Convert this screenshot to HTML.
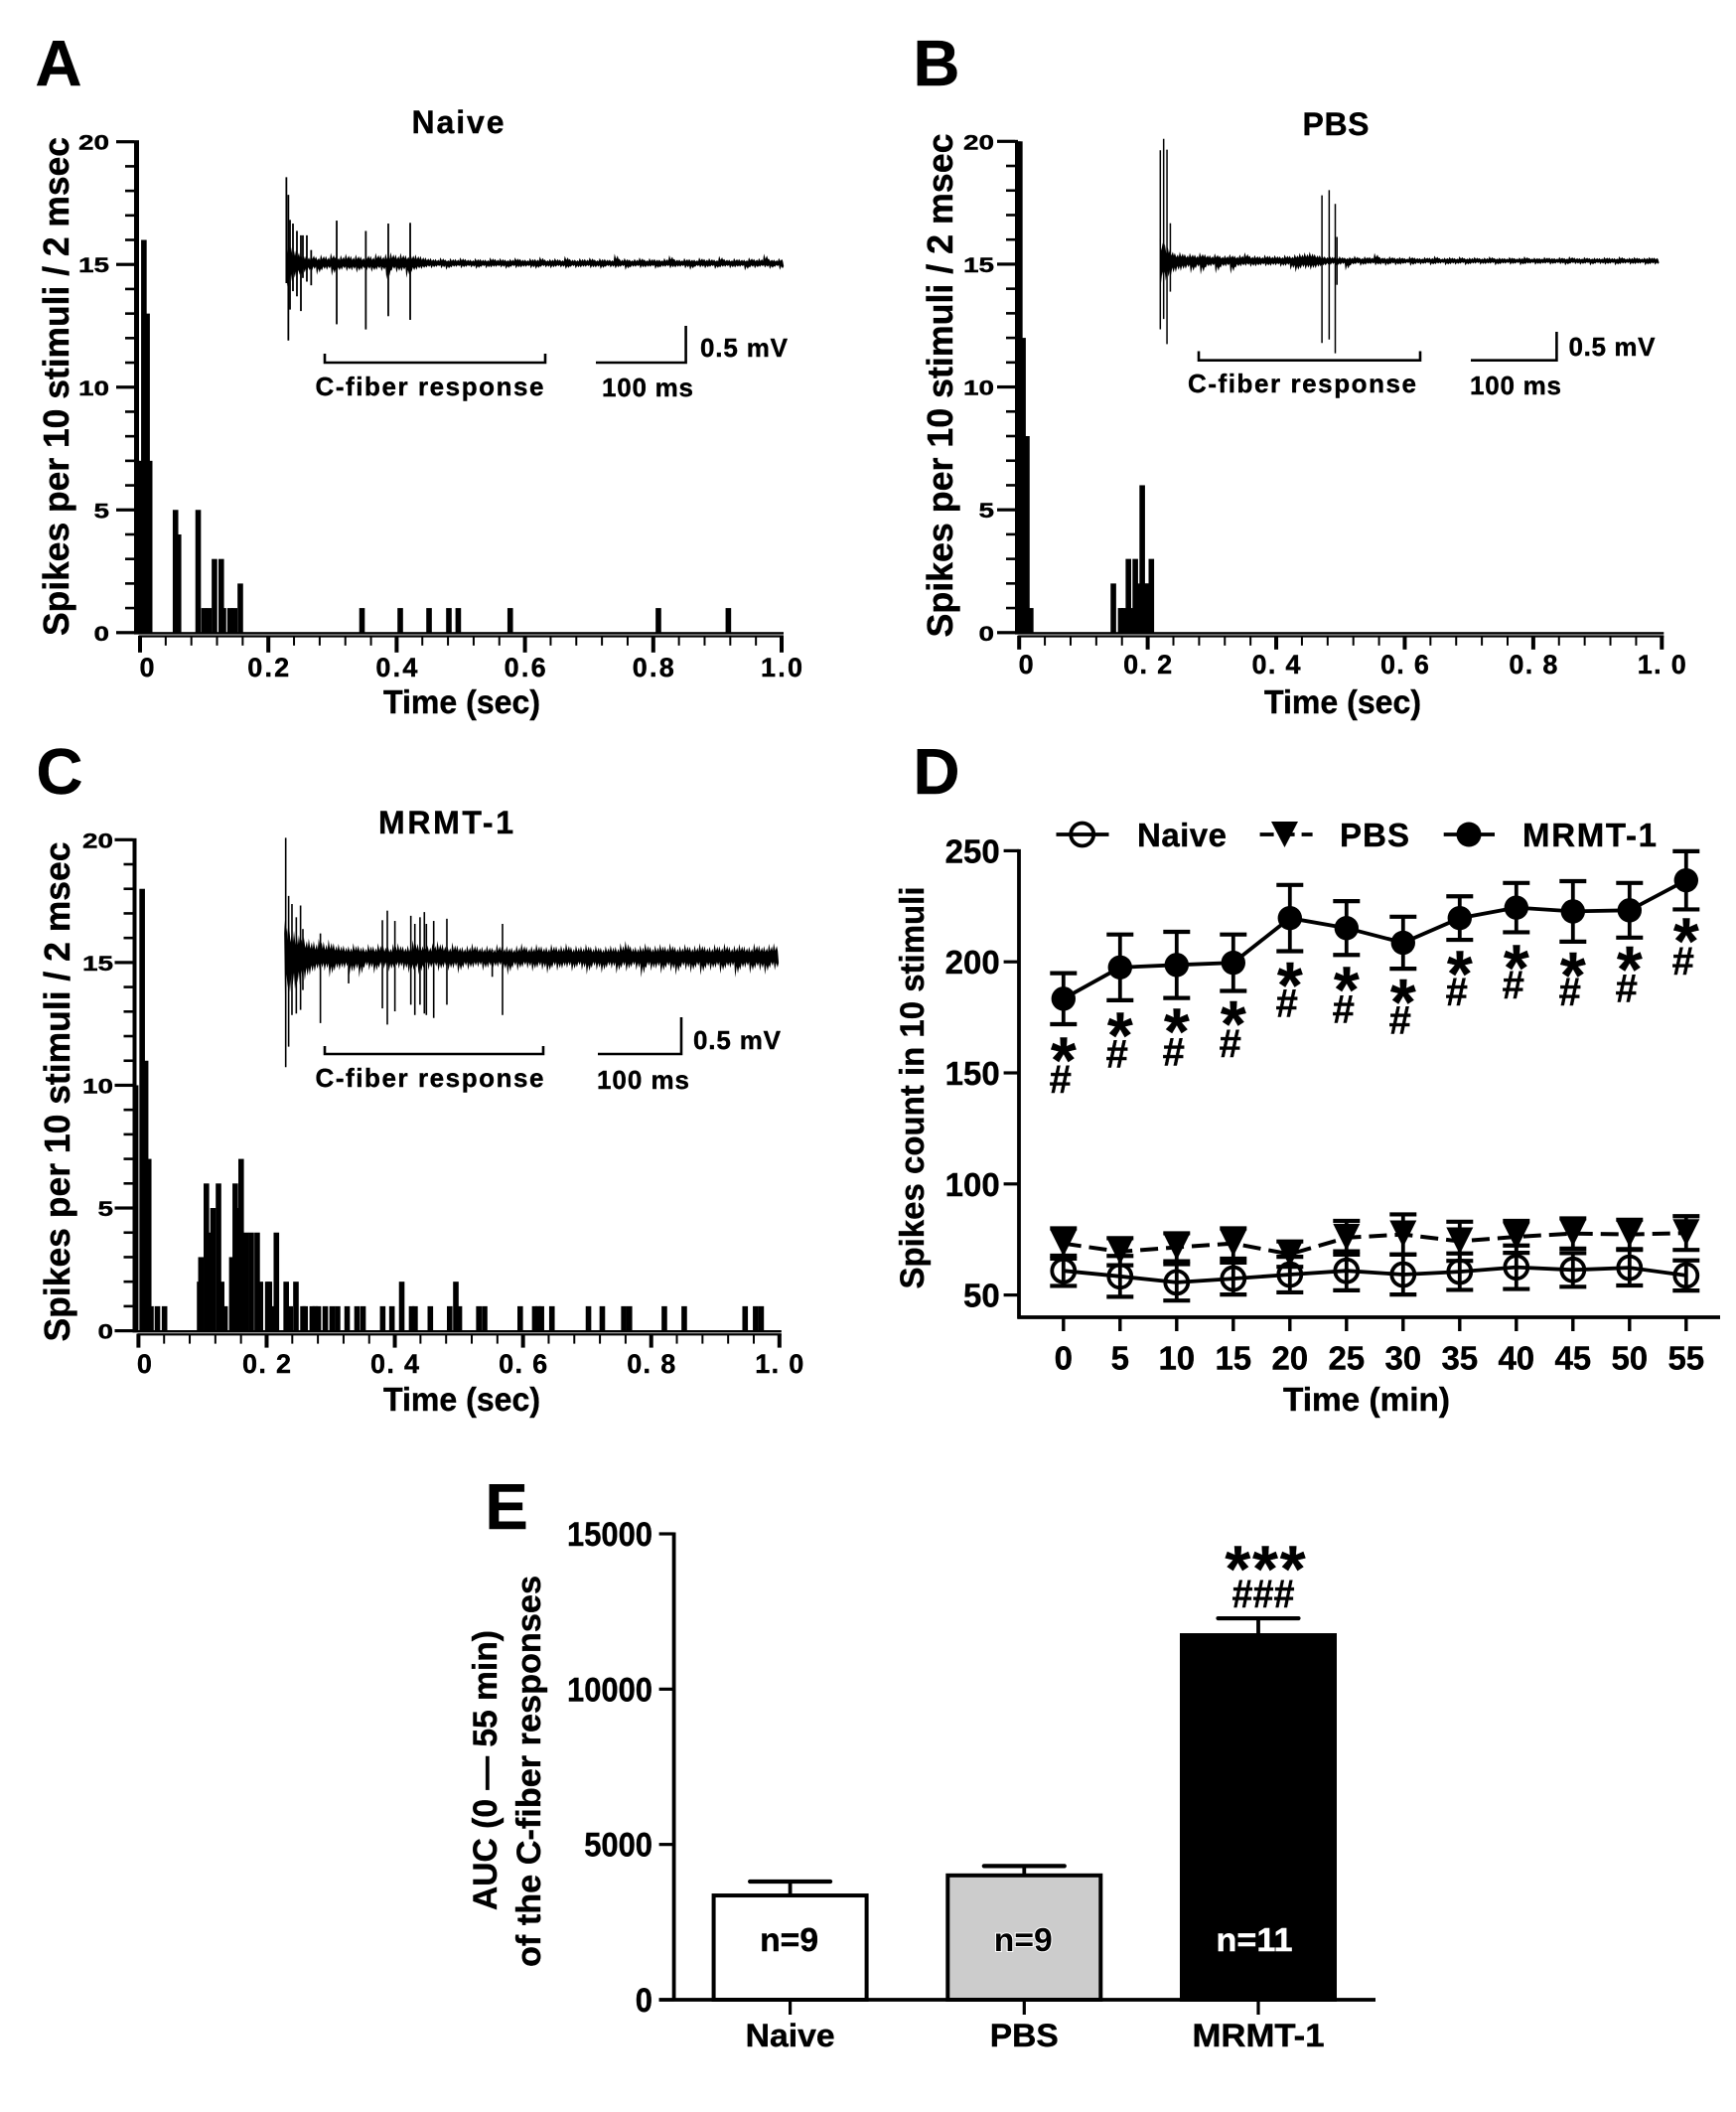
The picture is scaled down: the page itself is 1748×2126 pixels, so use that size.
<!DOCTYPE html>
<html lang="en">
<head>
<meta charset="utf-8">
<title>C-fiber response figure</title>
<style>
html,body{margin:0;padding:0;background:#fff;}
svg{display:block;}
text{font-family:"Liberation Sans",Arial,sans-serif;font-weight:bold;fill:#000;stroke:#000;stroke-width:0.4px;}
</style>
</head>
<body>
<svg id="figure" width="1748" height="2126" viewBox="0 0 1748 2126">
<rect x="0" y="0" width="1748" height="2126" fill="#fff"/>

<text x="59" y="86" font-size="65" text-anchor="middle">A</text>
<text x="943" y="86" font-size="65" text-anchor="middle">B</text>
<text x="60" y="799" font-size="65" text-anchor="middle">C</text>
<text x="943" y="799" font-size="65" text-anchor="middle">D</text>
<text x="510" y="1539" font-size="65" text-anchor="middle">E</text>

<text x="461" y="134" font-size="32" text-anchor="middle" textLength="93" lengthAdjust="spacing">Naive</text>
<text x="1345" y="136" font-size="32" text-anchor="middle" textLength="67">PBS</text>
<text x="449" y="839" font-size="32" text-anchor="middle" textLength="136" lengthAdjust="spacing">MRMT-1</text>

<text transform="translate(69,389) rotate(-90)" font-size="36" text-anchor="middle" textLength="502" lengthAdjust="spacingAndGlyphs">Spikes per 10 stimuli / 2 msec</text>
<text transform="translate(959,388) rotate(-90)" font-size="36" text-anchor="middle" textLength="507" lengthAdjust="spacingAndGlyphs">Spikes per 10 stimuli / 2 msec</text>
<text transform="translate(70,1099) rotate(-90)" font-size="36" text-anchor="middle" textLength="503" lengthAdjust="spacingAndGlyphs">Spikes per 10 stimuli / 2 msec</text>
<text transform="translate(930,1095) rotate(-90)" font-size="34" text-anchor="middle" textLength="405" lengthAdjust="spacingAndGlyphs">Spikes count in 10 stimuli</text>
<text transform="translate(500,1782) rotate(-90)" font-size="34" text-anchor="middle" textLength="282" lengthAdjust="spacingAndGlyphs">AUC (0 — 55 min)</text>
<text transform="translate(544,1783) rotate(-90)" font-size="34" text-anchor="middle" textLength="394" lengthAdjust="spacingAndGlyphs">of the C-fiber responses</text>

<text x="465" y="718" font-size="33" text-anchor="middle" textLength="158" lengthAdjust="spacingAndGlyphs">Time (sec)</text>
<text x="1352" y="718" font-size="33" text-anchor="middle" textLength="158" lengthAdjust="spacingAndGlyphs">Time (sec)</text>
<text x="465" y="1420" font-size="33" text-anchor="middle" textLength="158" lengthAdjust="spacingAndGlyphs">Time (sec)</text>
<text x="1376" y="1420" font-size="33" text-anchor="middle" textLength="168" lengthAdjust="spacingAndGlyphs">Time (min)</text>

<g fill="none" stroke="#000" stroke-width="2.6">
<path d="M327 356V365H549V356"/>
<path d="M600 365H690.6V328"/>
</g>
<text x="432.5" y="398" font-size="26" text-anchor="middle" textLength="230" lengthAdjust="spacing">C-fiber response</text>
<text x="652" y="399" font-size="26" text-anchor="middle" textLength="92" lengthAdjust="spacing">100 ms</text>
<text x="749" y="359" font-size="26" text-anchor="middle" textLength="88" lengthAdjust="spacing">0.5 mV</text>

<g fill="none" stroke="#000" stroke-width="2.6">
<path d="M1207 353.5V362.7H1430V353.5"/>
<path d="M1481 362.7H1567.4V334"/>
</g>
<text x="1311" y="395" font-size="26" text-anchor="middle" textLength="230" lengthAdjust="spacing">C-fiber response</text>
<text x="1526" y="397" font-size="26" text-anchor="middle" textLength="92" lengthAdjust="spacing">100 ms</text>
<text x="1623" y="358" font-size="26" text-anchor="middle" textLength="87" lengthAdjust="spacing">0.5 mV</text>

<g fill="none" stroke="#000" stroke-width="2.6">
<path d="M327 1053V1061H547V1053"/>
<path d="M602 1061H686V1024"/>
</g>
<text x="432.5" y="1094" font-size="26" text-anchor="middle" textLength="230" lengthAdjust="spacing">C-fiber response</text>
<text x="647.5" y="1096" font-size="26" text-anchor="middle" textLength="93" lengthAdjust="spacing">100 ms</text>
<text x="742" y="1056" font-size="26" text-anchor="middle" textLength="88" lengthAdjust="spacing">0.5 mV</text>

<g>
<g>
<path d="M1063.5 840H1116.5" stroke="#000" stroke-width="3.8"/>
<circle cx="1089.7" cy="840" r="11.5" fill="none" stroke="#000" stroke-width="3.8"/>
<text x="1190" y="852" font-size="33" text-anchor="middle" textLength="90" lengthAdjust="spacing">Naive</text>
</g>
<g>
<path d="M1268.6 840H1321.6" stroke="#000" stroke-width="3.8" stroke-dasharray="14 7"/>
<path d="M1280 827H1307L1293.5 853Z" fill="#000"/>
<text x="1384" y="852" font-size="33" text-anchor="middle" textLength="70">PBS</text>
</g>
<g>
<path d="M1453.7 840H1505" stroke="#000" stroke-width="3.8"/>
<circle cx="1479" cy="840" r="12.5" fill="#000"/>
<text x="1600.5" y="852" font-size="33" text-anchor="middle" textLength="135" lengthAdjust="spacing">MRMT-1</text>
</g>
</g>

<g id="panel-e-static">
<text x="1274" y="1602" font-size="66" text-anchor="middle" textLength="81">***</text>
<text x="1272" y="1618" font-size="40" text-anchor="middle" textLength="63" lengthAdjust="spacingAndGlyphs">###</text>
</g>
</svg>

<script>
// Panel A histogram (bin time in sec, spikes per bin)
const barTimesA = [-0.004,0,0.006,0.011,0.015,0.0553,0.060,0.0906,0.0998,0.1075,0.116,0.1266,0.130,0.1403,0.1474,0.1563,0.346,0.4056,0.4505,0.4814,0.496,0.577,0.808,0.917];
const barCountsA = [7,7,16,13,7,5,4,5,1,1,3,3,1,1,1,2,1,1,1,1,1,1,1,1];
// Panel B histogram
const barTimesB = [-0.002,0.001,0.006,0.012,0.018,0.1466,0.158,0.163,0.17,0.175,0.1807,0.186,0.1915,0.197,0.2,0.2057];
const barCountsB = [20,20,12,8,1,2,1,1,3,1,3,2,6,2,2,3];
// Panel C histogram
const barTimesC = [-0.0043,0.0058,0.0112,0.016,0.0195,0.0296,0.0407,0.0955,0.0975,0.106,0.1113,0.1164,0.1249,0.1298,0.1351,0.1457,0.151,0.1543,0.1602,0.1677,0.176,0.1852,0.1903,0.2018,0.2043,0.207,0.2152,0.2305,0.2368,0.2457,0.2567,0.26,0.2712,0.2757,0.2807,0.2915,0.3022,0.3107,0.3256,0.341,0.3504,0.3811,0.3955,0.4108,0.4262,0.4315,0.4554,0.4856,0.4952,0.5007,0.5311,0.5401,0.5956,0.6183,0.6235,0.6287,0.6451,0.7021,0.7237,0.7573,0.766,0.8205,0.8515,0.9465,0.9629,0.9715];
const barCountsC = [10,18,11,7,1,1,1,2,3,6,4,5,6,2,1,3,6,5,7,4,4,4,2,2,2,1,4,2,1,2,1,1,1,1,1,1,1,1,1,1,1,1,1,2,1,1,1,1,2,1,1,1,1,1,1,1,1,1,1,1,1,1,1,1,1,1];

// Histogram axis ticks and labels
const histYTicks = [0,5,10,15,20];
const histYTickLabels = ['0','5','10','15','20'];
const histXTicks = [0,0.2,0.4,0.6,0.8,1];
const histXLabelsA = ['0','0.2','0.4','0.6','0.8','1.0'];
const histXLabelsSpaced = ['0','0. 2','0. 4','0. 6','0. 8','1. 0'];

// Inset traces: spike time (ms), positive and negative peak (mV)
const spikeTimesA = [0.4,2.6,4.4,7.7,12.1,16.5,18.7,23.1,27.9,56.2,88.5,113.4,137.7];
const spikeUpA = [1.17,0.93,0.59,0.54,0.44,0.38,0.38,0.38,0.18,0.58,0.44,0.54,0.55];
const spikeDownA = [0.27,1.05,0.63,0.38,0.45,0.65,0.2,0.25,0.3,0.83,0.9,0.72,0.77];
const spikeTimesB = [0.6,4.5,8.4,12.3,189,197.4,204.5,206.5];
const spikeUpB = [1.94,2.14,1.95,0.66,1.15,1.24,1.0,0.42];
const spikeDownB = [1.2,1.02,1.46,0.54,1.44,1.38,1.62,0.42];
const spikeTimesC = [2,5.5,9.5,14.7,19.8,22.6,43.6,77.4,117.9,123.8,132.9,152,156.8,163,168.2,170.6,179.4,195.2,249.6,261.9];
const spikeUpC = [1.62,0.83,0.72,0.54,0.7,0.38,0.32,0.1,0.5,0.63,0.49,0.56,0.45,0.54,0.61,0.45,0.49,0.52,0.1,0.45];
const spikeDownC = [1.5,1.22,0.79,0.77,0.72,0.45,0.9,0.36,0.7,0.92,0.74,0.65,0.79,0.65,0.77,0.79,0.83,0.65,0.27,0.79];

// Inset traces: background noise envelope (mV), one value per trace segment
const noiseUpA = [0.30,0.22,0.18,0.12,0.10,0.13,0.09,0.12,0.10,0.14,0.09,0.11,0.13,0.10,0.12,0.09,0.13,0.10,0.14,0.11,0.13,0.15,0.12,0.14,0.11,0.13,0.12,0.10,0.08,0.07,0.06,0.08,0.05,0.07,0.06,0.08,0.06,0.05,0.07,0.06,0.05,0.08,0.06,0.07,0.05,0.06,0.08,0.06,0.05,0.07,0.06,0.09,0.05,0.06,0.07,0.05,0.10,0.06,0.05,0.07,0.06,0.08,0.05,0.07,0.06,0.05,0.13,0.06,0.07,0.05,0.06,0.08,0.05,0.07,0.06,0.05,0.07,0.11,0.06,0.05,0.07,0.06,0.05,0.08,0.06,0.07,0.05,0.10,0.06,0.05,0.07,0.06,0.05,0.08,0.06,0.07,0.13,0.06,0.05,0.07];
const noiseDownA = [0.32,0.25,0.20,0.16,0.12,0.10,0.16,0.10,0.09,0.17,0.12,0.09,0.11,0.10,0.13,0.09,0.10,0.12,0.09,0.11,0.22,0.10,0.13,0.11,0.20,0.12,0.09,0.08,0.06,0.07,0.05,0.07,0.09,0.06,0.05,0.07,0.05,0.06,0.08,0.05,0.07,0.06,0.05,0.06,0.08,0.05,0.07,0.06,0.05,0.07,0.08,0.05,0.06,0.07,0.05,0.06,0.08,0.05,0.07,0.06,0.05,0.07,0.06,0.08,0.05,0.06,0.07,0.05,0.09,0.06,0.05,0.07,0.06,0.05,0.08,0.06,0.05,0.07,0.06,0.05,0.07,0.09,0.05,0.06,0.07,0.05,0.08,0.06,0.05,0.07,0.06,0.05,0.10,0.06,0.07,0.05,0.06,0.08,0.05,0.09];
const noiseUpB = [0.40,0.30,0.20,0.14,0.16,0.12,0.14,0.11,0.15,0.12,0.10,0.13,0.09,0.10,0.12,0.09,0.11,0.15,0.09,0.10,0.08,0.11,0.09,0.10,0.08,0.11,0.09,0.12,0.14,0.15,0.16,0.12,0.10,0.08,0.09,0.07,0.08,0.06,0.07,0.09,0.06,0.08,0.07,0.14,0.07,0.06,0.08,0.06,0.07,0.05,0.08,0.06,0.05,0.07,0.06,0.09,0.05,0.06,0.07,0.05,0.08,0.05,0.06,0.07,0.05,0.06,0.08,0.05,0.06,0.05,0.07,0.05,0.06,0.08,0.05,0.06,0.05,0.07,0.06,0.05,0.07,0.05,0.08,0.06,0.05,0.07,0.05,0.06,0.05,0.07,0.06,0.05,0.08,0.05,0.06,0.07,0.05,0.06,0.07,0.06];
const noiseDownB = [0.42,0.35,0.26,0.20,0.18,0.14,0.22,0.13,0.24,0.12,0.10,0.22,0.12,0.10,0.23,0.12,0.10,0.09,0.11,0.10,0.08,0.10,0.09,0.08,0.11,0.09,0.16,0.20,0.14,0.15,0.16,0.13,0.10,0.08,0.07,0.09,0.07,0.17,0.08,0.06,0.09,0.07,0.06,0.08,0.07,0.09,0.06,0.08,0.07,0.05,0.09,0.06,0.07,0.05,0.08,0.06,0.05,0.08,0.06,0.07,0.05,0.08,0.06,0.05,0.07,0.06,0.05,0.08,0.06,0.05,0.07,0.05,0.08,0.06,0.05,0.07,0.06,0.05,0.07,0.05,0.06,0.08,0.05,0.06,0.07,0.05,0.08,0.05,0.06,0.07,0.05,0.08,0.06,0.05,0.07,0.06,0.05,0.08,0.06,0.07];
const noiseUpC = [0.50,0.44,0.36,0.30,0.27,0.25,0.22,0.25,0.21,0.24,0.19,0.18,0.16,0.15,0.19,0.16,0.14,0.18,0.15,0.19,0.16,0.14,0.18,0.19,0.15,0.16,0.23,0.18,0.15,0.16,0.19,0.22,0.18,0.15,0.20,0.16,0.14,0.16,0.19,0.15,0.14,0.16,0.13,0.18,0.14,0.15,0.13,0.16,0.19,0.14,0.15,0.18,0.15,0.14,0.18,0.15,0.16,0.19,0.14,0.16,0.15,0.18,0.14,0.16,0.13,0.15,0.16,0.14,0.19,0.22,0.15,0.14,0.16,0.19,0.14,0.16,0.18,0.15,0.19,0.14,0.15,0.18,0.14,0.16,0.19,0.15,0.14,0.18,0.15,0.19,0.14,0.16,0.18,0.15,0.14,0.19,0.16,0.15,0.18,0.19];
const noiseDownC = [0.52,0.48,0.44,0.38,0.32,0.25,0.20,0.18,0.19,0.28,0.19,0.18,0.16,0.25,0.20,0.28,0.15,0.18,0.23,0.15,0.16,0.20,0.15,0.16,0.19,0.22,0.18,0.24,0.15,0.18,0.16,0.20,0.15,0.19,0.16,0.23,0.15,0.18,0.15,0.14,0.19,0.15,0.16,0.14,0.20,0.25,0.15,0.19,0.14,0.16,0.20,0.15,0.18,0.23,0.15,0.19,0.16,0.15,0.20,0.14,0.18,0.24,0.15,0.18,0.22,0.15,0.16,0.23,0.15,0.20,0.14,0.18,0.28,0.15,0.19,0.16,0.23,0.15,0.20,0.25,0.15,0.18,0.22,0.15,0.25,0.16,0.19,0.15,0.23,0.16,0.15,0.28,0.18,0.15,0.23,0.16,0.19,0.24,0.15,0.18];

// Panel D: time course series
const dTimes = [0,5,10,15,20,25,30,35,40,45,50,55];
const dYTicks = [50,100,150,200,250];
const mrmtMeans = [183.4,197.5,198.6,199.6,219.7,215.2,208.6,219.7,224.4,222.7,223.2,236.7];
const mrmtSem = [11.5,14.8,14.9,12.7,14.9,12.1,11.7,9.8,11.1,13.6,12.3,13.1];
const pbsMeans = [73.2,69.5,71.5,73.2,68.4,75.8,77.3,74.2,76.2,77.7,77.3,77.9];
const pbsSem = [6.8,6.1,6.3,6.8,5.7,7.6,9,8.8,7.2,6.8,6.6,7.6];
const naiveMeans = [60.9,58.4,55.7,57.4,59.2,60.9,59.2,60.5,62.5,61.3,62.3,58.8];
const naiveSem = [6.8,9.2,8.2,7.2,8,8.8,9,8.2,9.8,7.6,8,6.8];
const starLevels = [160.2,171.5,173.2,176.6,194.1,192,186.5,199.2,201.8,198.6,201.2,213.9];
const hashLevels = [147.5,158.8,159.8,163.7,181.8,179.1,174,186.9,190,186.9,188.5,200.8];

// Panel E: AUC bars
const eCategories = ['Naive','PBS','MRMT-1'];
const eValues = [3357,4004,11737];
const eUpperErrors = [3805,4305,12280];
const eCounts = ['n=9','n=9','n=11'];
const eYTicks = [0,5000,10000,15000];

const svg = document.getElementById('figure');
const NS = svg.namespaceURI;
function mk(tag, attrs, parent) {
  const e = document.createElementNS(NS, tag);
  for (const k in attrs) e.setAttribute(k, attrs[k]);
  parent.appendChild(e);
  return e;
}
function group(parent) { return mk('g', {}, parent); }

function drawHistogram(layout, times, counts, xLabels) {
  const root = group(svg);
  
  
  const xs = t => layout.x0 + t * (layout.x1 - layout.x0);
  const ys = c => layout.y0 + c * (layout.y20 - layout.y0) / 20;

  const yAxis = mk('rect', {x: layout.axisX, y: ys(20) - 1.5, width: layout.axisW, height: layout.y0 - ys(20) + 3, fill: '#000'}, root);
  
  
  for (let c = 0; c <= 20; c++) {
    const major = c % 5 === 0;
    const h = major ? 3.2 : 2.6;
    const tick = mk('rect', {x: layout.axisX - (major ? 18 : 9), y: ys(c) - h / 2, width: major ? 18 : 9, height: h, fill: '#000'}, root);
    
    
  }
  histYTicks.forEach((c, i) => {
    const s = histYTickLabels[i];
    const lab = mk('text', {x: layout.yLabelRight, y: ys(c) + 8, 'font-size': 21, 'text-anchor': 'end', textLength: s.length * 15.5, lengthAdjust: 'spacingAndGlyphs'}, root);
    lab.textContent = s;
    
    
  });

  const baseline = mk('rect', {x: layout.axisX, y: layout.y0 - 0.6, width: layout.x1 - layout.axisX + 2, height: 2.4, fill: '#000'}, root);
  
  
  const xAxis = mk('rect', {x: layout.x0 - 1, y: layout.y0 + 2.6, width: layout.x1 - layout.x0 + 3, height: 2.2, fill: '#000'}, root);
  
  
  for (let k = 0; k <= 25; k++) {
    const t = k * 0.04;
    const major = k % 5 === 0;
    const w = major ? (layout.majorW || 4) : 2;
    const tick = mk('rect', {x: xs(t) - w / 2, y: layout.y0 + 3, width: w, height: major ? layout.tickLen : 10, fill: '#000'}, root);
    
    
  }
  histXTicks.forEach((t, i) => {
    const s = xLabels[i];
    const cx = i === 0 ? xs(t) + layout.zeroShift : xs(t);
    const lab = mk('text', {x: cx, y: layout.xLabelY, 'font-size': 27, 'text-anchor': 'middle'}, root);
    if (s.length > 1) { lab.setAttribute('textLength', layout.xLabelLen); lab.setAttribute('lengthAdjust', 'spacing'); }
    lab.textContent = s;
    
    
  });

  times.forEach((t, i) => {
    const bar = mk('rect', {x: xs(t) - 2.8, y: ys(counts[i]), width: 5.6, height: layout.y0 - ys(counts[i]) + 1, fill: '#000'}, root);
    
    
  });
}

function drawTrace(layout, spikeTimes, spikeUp, spikeDown, noiseUp, noiseDown) {
  const root = group(svg);
  
  
  const xs = ms => layout.x0 + ms * layout.pxPerMs;
  const ys = mv => layout.y0 - mv * layout.pxPerMv;
  const step = layout.lenMs / noiseUp.length;
  let top = '', bottom = '';
  noiseUp.forEach((a, i) => {
    const peak = ys(a).toFixed(1), dip = ys(a * 0.45).toFixed(1);
    top += (i ? 'L' : 'M') + xs(i * step).toFixed(1) + ' ' + peak
      + 'L' + xs((i + 0.3) * step).toFixed(1) + ' ' + dip
      + 'L' + xs((i + 0.6) * step).toFixed(1) + ' ' + ys(a * 0.8).toFixed(1)
      + 'L' + xs((i + 0.8) * step).toFixed(1) + ' ' + dip;
  });
  for (let i = noiseDown.length - 1; i >= 0; i--) {
    const a = noiseDown[i];
    const peak = ys(-a).toFixed(1), dip = ys(-a * 0.45).toFixed(1);
    bottom += 'L' + xs((i + 1) * step).toFixed(1) + ' ' + dip
      + 'L' + xs((i + 0.75) * step).toFixed(1) + ' ' + ys(-a * 0.8).toFixed(1)
      + 'L' + xs((i + 0.5) * step).toFixed(1) + ' ' + dip
      + 'L' + xs((i + 0.2) * step).toFixed(1) + ' ' + peak;
  }
  const band = mk('path', {d: top + bottom + 'Z', fill: '#000'}, root);
  
  
  spikeTimes.forEach((ms, i) => {
    const line = mk('line', {x1: xs(ms), x2: xs(ms), y1: ys(spikeUp[i]), y2: ys(-spikeDown[i]), stroke: '#000', 'stroke-width': layout.spikeW}, root);
    
    
  });
}

drawHistogram({name: 'panel-a-histogram', x0: 141, x1: 787, y0: 636.8, y20: 142.7, axisX: 135, axisW: 5, yLabelRight: 110, xLabelY: 681, xLabelLen: 42, zeroShift: 7, tickLen: 17}, barTimesA, barCountsA, histXLabelsA);
drawHistogram({name: 'panel-b-histogram', x0: 1026.2, x1: 1673.3, y0: 636.8, y20: 142.3, axisX: 1022, axisW: 3, yLabelRight: 1001, xLabelY: 678, xLabelLen: 49, zeroShift: 7, tickLen: 14}, barTimesB, barCountsB, histXLabelsSpaced);
drawHistogram({name: 'panel-c-histogram', x0: 139.4, x1: 784.8, y0: 1339.6, y20: 845.3, axisX: 133.5, axisW: 4, yLabelRight: 114, xLabelY: 1382, xLabelLen: 49, zeroShift: 6, tickLen: 14}, barTimesC, barCountsC, histXLabelsSpaced);

drawTrace({name: 'panel-a-trace', x0: 288, y0: 265, pxPerMs: 0.908, pxPerMv: 74, lenMs: 552, spikeW: 1.8}, spikeTimesA, spikeUpA, spikeDownA, noiseUpA, noiseDownA);
drawTrace({name: 'panel-b-trace', x0: 1167.8, y0: 262.6, pxPerMs: 0.864, pxPerMv: 57.4, lenMs: 582, spikeW: 1.5}, spikeTimesB, spikeUpB, spikeDownB, noiseUpB, noiseDownB);
drawTrace({name: 'panel-c-trace', x0: 286, y0: 963.3, pxPerMs: 0.84, pxPerMv: 74, lenMs: 593, spikeW: 1.6}, spikeTimesC, spikeUpC, spikeDownC, noiseUpC, noiseDownC);

// ---- Panel D ----
(function () {
  const root = group(svg);
  
  
  const xs = t => 1070.8 + t * (1697.8 - 1070.8) / 55;
  const ys = v => 856.4 + (250 - v) * (1303.6 - 856.4) / 200;

  const yAxis = mk('line', {x1: 1026, x2: 1026, y1: ys(250) - 1.5, y2: 1327.5, stroke: '#000', 'stroke-width': 3.8}, root);
  
  
  const xAxis = mk('line', {x1: 1024.5, x2: 1732, y1: 1326, y2: 1326, stroke: '#000', 'stroke-width': 3.8}, root);
  
  
  dYTicks.forEach(v => {
    const tick = mk('line', {x1: 1010.6, x2: 1026, y1: ys(v), y2: ys(v), stroke: '#000', 'stroke-width': 3.2}, root);
    
    
    const lab = mk('text', {x: 1006.7, y: ys(v) + 12, 'font-size': 33, 'text-anchor': 'end'}, root);
    lab.textContent = v;
    
    
  });
  dTimes.forEach(t => {
    const tick = mk('line', {x1: xs(t), x2: xs(t), y1: 1326, y2: 1340, stroke: '#000', 'stroke-width': 3.4}, root);
    
    
    const lab = mk('text', {x: xs(t), y: 1378.5, 'font-size': 33, 'text-anchor': 'middle'}, root);
    lab.textContent = t;
    
    
  });

  function errorBars(means, sem) {
    means.forEach((m, i) => {
      const x = xs(dTimes[i]);
      const stem = mk('line', {x1: x, x2: x, y1: ys(m + sem[i]), y2: ys(m - sem[i]), stroke: '#000', 'stroke-width': 3.8}, root);
      
      
      [m + sem[i], m - sem[i]].forEach(v => {
        const cap = mk('line', {x1: x - 13.5, x2: x + 13.5, y1: ys(v), y2: ys(v), stroke: '#000', 'stroke-width': 4.2}, root);
        
        
      });
    });
  }
  function linePoints(means) {
    return means.map((m, i) => xs(dTimes[i]).toFixed(1) + ',' + ys(m).toFixed(1)).join(' ');
  }

  errorBars(pbsMeans, pbsSem);
  const pbsLine = mk('polyline', {points: linePoints(pbsMeans), fill: 'none', stroke: '#000', 'stroke-width': 4, 'stroke-dasharray': '18 8'}, root);
  
  
  pbsMeans.forEach((m, i) => {
    const x = xs(dTimes[i]), y = ys(m);
    const marker = mk('path', {d: 'M' + (x - 13.5) + ' ' + (y - 14) + 'H' + (x + 13.5) + 'L' + x + ' ' + (y + 13) + 'Z', fill: '#000'}, root);
    
    
  });

  errorBars(naiveMeans, naiveSem);
  const naiveLine = mk('polyline', {points: linePoints(naiveMeans), fill: 'none', stroke: '#000', 'stroke-width': 3.8}, root);
  
  
  naiveMeans.forEach((m, i) => {
    const marker = mk('circle', {cx: xs(dTimes[i]), cy: ys(m), r: 11.5, fill: 'none', stroke: '#000', 'stroke-width': 3.8}, root);
    
    
  });

  errorBars(mrmtMeans, mrmtSem);
  const mrmtLine = mk('polyline', {points: linePoints(mrmtMeans), fill: 'none', stroke: '#000', 'stroke-width': 3.8}, root);
  
  
  mrmtMeans.forEach((m, i) => {
    const marker = mk('circle', {cx: xs(dTimes[i]), cy: ys(m), r: 12.2, fill: '#000'}, root);
    
    
  });

  starLevels.forEach((v, i) => {
    const star = mk('text', {x: xs(dTimes[i]), y: ys(v) + 33, 'font-size': 66, 'text-anchor': 'middle'}, root);
    star.textContent = '*';
    
    
  });
  hashLevels.forEach((v, i) => {
    const hash = mk('text', {x: xs(dTimes[i]) - 3, y: ys(v) + 14.4, 'font-size': 40, 'text-anchor': 'middle'}, root);
    hash.textContent = '#';
    
    
  });
})();

// ---- Panel E ----
(function () {
  const root = group(svg);
  
  
  const ys = v => 2013 - v * (2013 - 1544) / 15000;
  const xs = i => 795.6 + i * 235.7;
  const fills = ['#fff', '#ccc', '#000'];
  const textFills = ['#000', '#000', '#fff'];
  const countLengths = [59, 59, 77];
  const labelLengths = [90, 69, 133];

  eValues.forEach((v, i) => {
    const cx = xs(i);
    const stem = mk('line', {x1: cx, x2: cx, y1: ys(eUpperErrors[i]), y2: ys(v), stroke: '#000', 'stroke-width': 3.8}, root);
    
    
    const cap = mk('line', {x1: cx - 40.5, x2: cx + 40.5, y1: ys(eUpperErrors[i]), y2: ys(eUpperErrors[i]), stroke: '#000', 'stroke-width': 4.2, 'stroke-linecap': 'round'}, root);
    
    
    const bar = mk('rect', {x: cx - 77, y: ys(v), width: 154, height: 2013 - ys(v), fill: fills[i], stroke: '#000', 'stroke-width': 4}, root);
    
    
    const halo = i === 1 ? 'stroke:#fff;stroke-width:2px;paint-order:stroke;' : 'stroke:' + textFills[i] + ';';
    const n = mk('text', {x: cx - (i === 2 ? 4 : 1), y: 1964, 'font-size': 33, 'text-anchor': 'middle', textLength: countLengths[i], lengthAdjust: 'spacingAndGlyphs', style: 'fill:' + textFills[i] + ';' + halo}, root);
    n.textContent = eCounts[i];
    
    
    const tick = mk('line', {x1: cx, x2: cx, y1: 2013, y2: 2028, stroke: '#000', 'stroke-width': 3.2}, root);
    
    
    const lab = mk('text', {x: cx, y: 2060, 'font-size': 32, 'text-anchor': 'middle', textLength: labelLengths[i], lengthAdjust: 'spacingAndGlyphs'}, root);
    lab.textContent = eCategories[i];
    
    
  });

  const yAxis = mk('line', {x1: 678.6, x2: 678.6, y1: ys(15000) - 1.5, y2: 2014, stroke: '#000', 'stroke-width': 3.8}, root);
  
  
  const xAxis = mk('line', {x1: 663.6, x2: 1385, y1: 2013, y2: 2013, stroke: '#000', 'stroke-width': 3.8}, root);
  
  
  eYTicks.forEach(v => {
    const tick = mk('line', {x1: 663.6, x2: 678.6, y1: ys(v), y2: ys(v), stroke: '#000', 'stroke-width': 3.2}, root);
    
    
    const lab = mk('text', {x: 657, y: ys(v) + 12, 'font-size': 34, 'text-anchor': 'end', textLength: String(v).length * 17.2, lengthAdjust: 'spacingAndGlyphs'}, root);
    lab.textContent = v;
    
    
  });
})();
</script>
</body>
</html>
